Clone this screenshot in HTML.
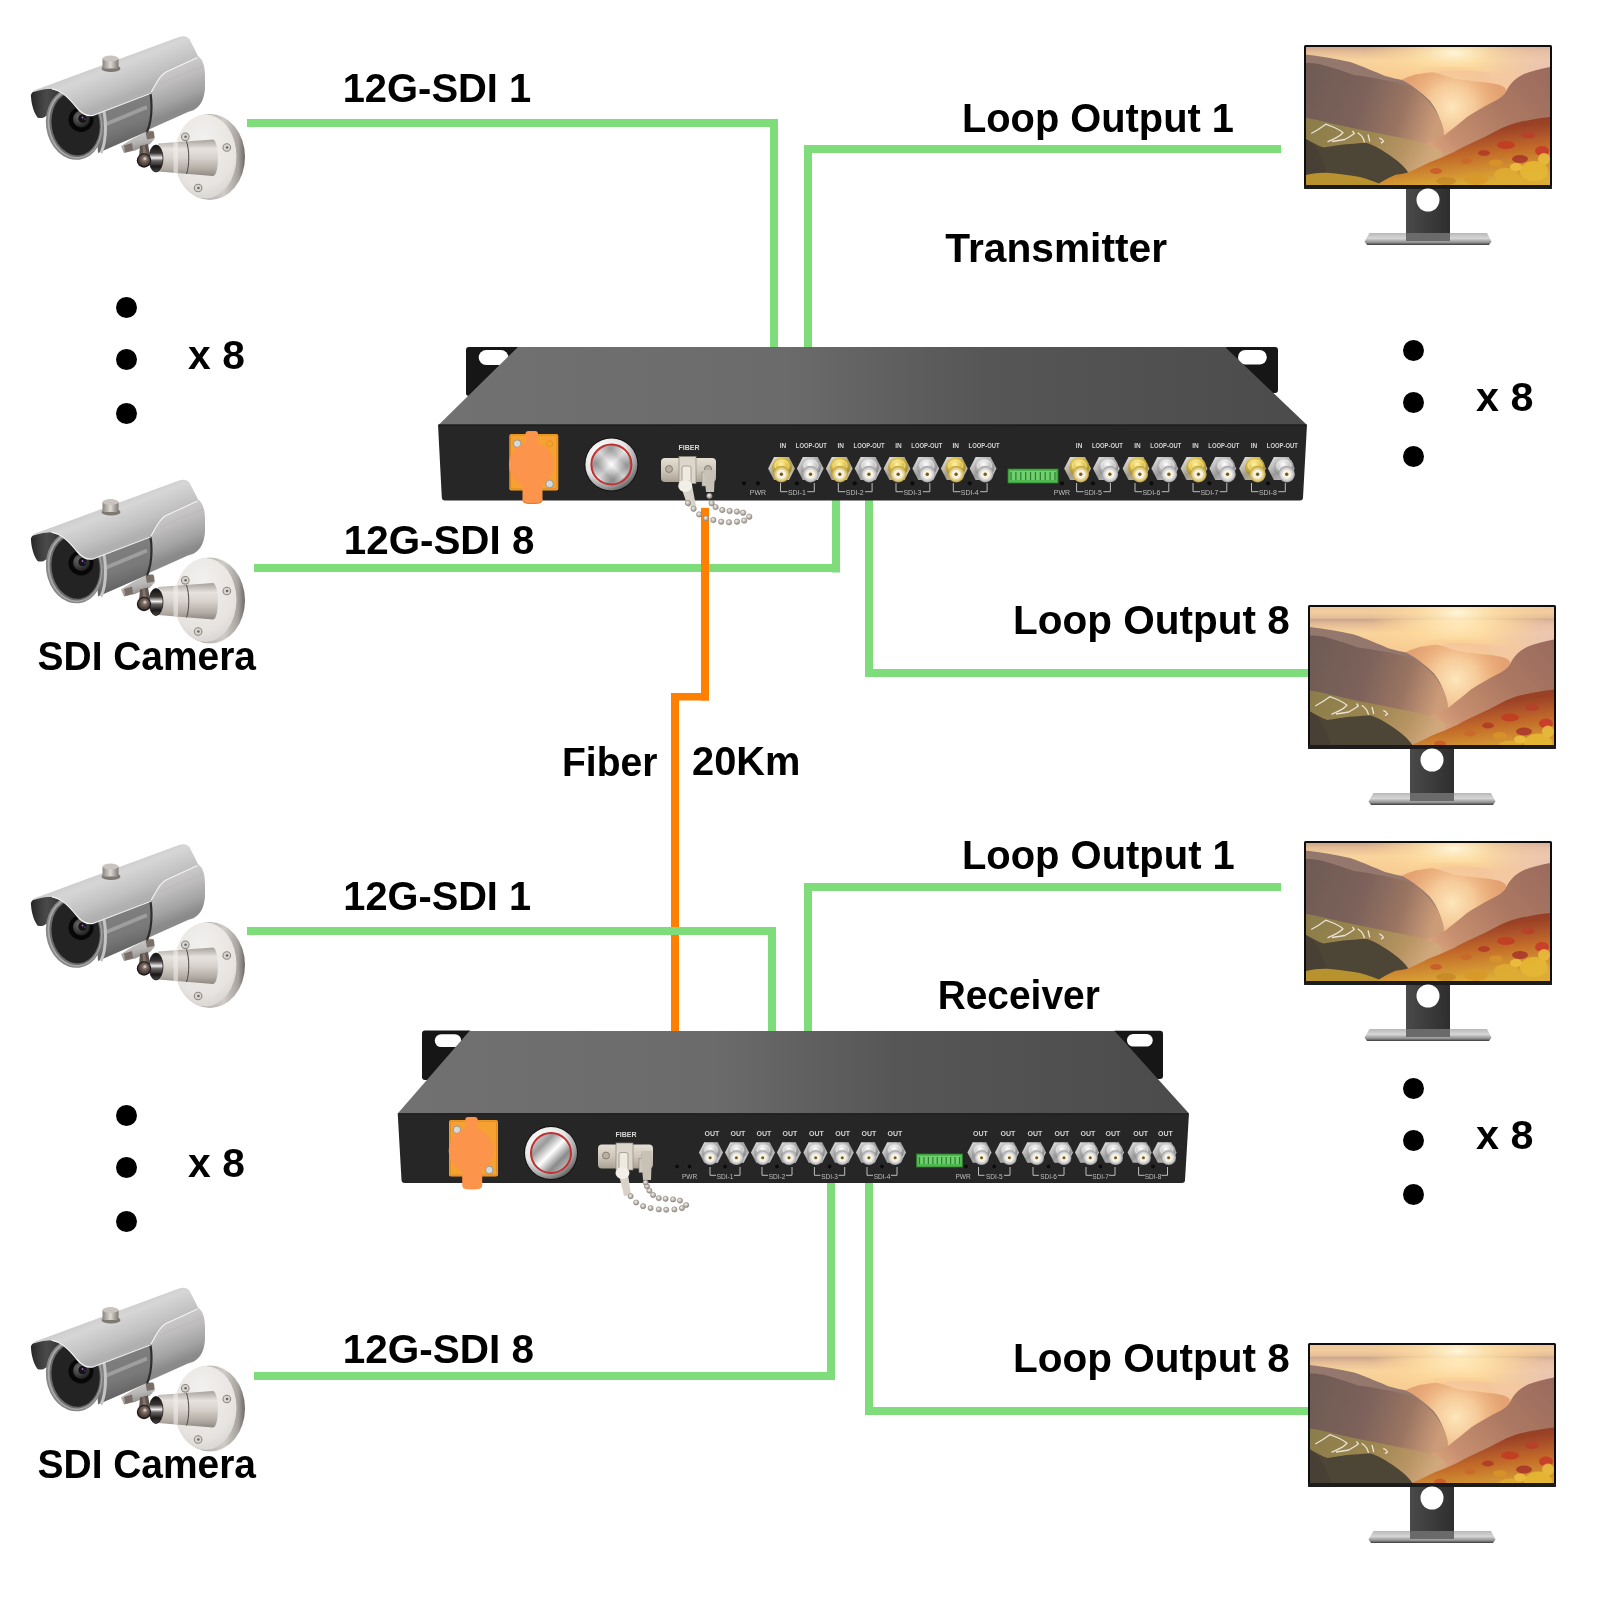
<!DOCTYPE html>
<html><head><meta charset="utf-8"><title>12G-SDI Fiber Diagram</title>
<style>html,body{margin:0;padding:0;background:#fff;}svg{display:block;will-change:transform;}</style></head>
<body><svg width="1600" height="1600" viewBox="0 0 1600 1600" font-family="Liberation Sans, sans-serif">
<defs>
<linearGradient id="cHood" gradientUnits="userSpaceOnUse" x1="100" y1="55" x2="118" y2="100">
 <stop offset="0" stop-color="#c4c4c4"/><stop offset="0.35" stop-color="#d6d6d6"/><stop offset="0.75" stop-color="#c2c2c2"/><stop offset="1" stop-color="#b0b0b0"/>
</linearGradient>
<linearGradient id="cBody" gradientUnits="userSpaceOnUse" x1="150" y1="70" x2="168" y2="115">
 <stop offset="0" stop-color="#d0cece"/><stop offset="0.4" stop-color="#bebcbc"/><stop offset="0.75" stop-color="#a4a4a4"/><stop offset="1" stop-color="#8a8a8a"/>
</linearGradient>
<linearGradient id="cFront" gradientUnits="userSpaceOnUse" x1="115" y1="105" x2="130" y2="150">
 <stop offset="0" stop-color="#7e7e7e"/><stop offset="0.45" stop-color="#7a7a7a"/><stop offset="1" stop-color="#5a5a5a"/>
</linearGradient>
<linearGradient id="cRim" x1="0" y1="0" x2="1" y2="0">
 <stop offset="0" stop-color="#8e8985"/><stop offset="0.7" stop-color="#cfcbc7"/><stop offset="0.9" stop-color="#a8a39f"/><stop offset="1" stop-color="#6d6865"/>
</linearGradient>
<radialGradient id="cFace" cx="0.45" cy="0.3" r="0.8">
 <stop offset="0" stop-color="#f3f1ef"/><stop offset="0.7" stop-color="#e6e3e0"/><stop offset="1" stop-color="#d2cecb"/>
</radialGradient>
<linearGradient id="cArm" gradientUnits="userSpaceOnUse" x1="0" y1="140" x2="0" y2="176">
 <stop offset="0" stop-color="#aaa49e"/><stop offset="0.25" stop-color="#e6e2de"/><stop offset="0.5" stop-color="#d8d2cc"/><stop offset="0.8" stop-color="#b4ada6"/><stop offset="1" stop-color="#8e8882"/>
</linearGradient>
<radialGradient id="cBall" cx="0.55" cy="0.4" r="0.6">
 <stop offset="0" stop-color="#a89890"/><stop offset="0.5" stop-color="#6a5a52"/><stop offset="1" stop-color="#3a302c"/>
</radialGradient>
<linearGradient id="cChrome" x1="0" y1="0" x2="0" y2="1">
 <stop offset="0" stop-color="#101010"/><stop offset="0.3" stop-color="#3a3634"/><stop offset="0.48" stop-color="#f0f0f0"/><stop offset="0.58" stop-color="#6a6664"/><stop offset="0.8" stop-color="#1a1818"/><stop offset="1" stop-color="#4a4644"/>
</linearGradient>
<linearGradient id="cBrk" x1="0" y1="0" x2="0.3" y2="1">
 <stop offset="0" stop-color="#d4d2d0"/><stop offset="0.6" stop-color="#b8b6b4"/><stop offset="1" stop-color="#8e8c8a"/>
</linearGradient>
<linearGradient id="cUnder" x1="0" y1="0" x2="1" y2="0">
 <stop offset="0" stop-color="#262626"/><stop offset="0.25" stop-color="#3c3c3c"/><stop offset="0.45" stop-color="#4a4a4a"/><stop offset="1" stop-color="#2e2e2e"/>
</linearGradient>
<linearGradient id="cKnob" x1="0" y1="0" x2="1" y2="0">
 <stop offset="0" stop-color="#8c8680"/><stop offset="0.5" stop-color="#dcd8d3"/><stop offset="1" stop-color="#7e7872"/>
</linearGradient>
<radialGradient id="cLens" cx="0.35" cy="0.35" r="0.7">
 <stop offset="0" stop-color="#6a6a6a"/><stop offset="0.6" stop-color="#3c3c3c"/><stop offset="1" stop-color="#1e1e1e"/>
</radialGradient>

<g id="cam">
 <!-- mount disk -->
 <ellipse cx="210" cy="157" rx="35" ry="43" fill="url(#cRim)"/>
 <ellipse cx="205.5" cy="156.5" rx="31" ry="42" fill="url(#cFace)"/>
 <g fill="#d9d5d1" stroke="#8d8883" stroke-width="1.1">
  <circle cx="185.3" cy="136.8" r="3.8"/><circle cx="226.8" cy="147.5" r="3.8"/><circle cx="198.1" cy="188" r="3.8"/>
 </g>
 <g fill="#6c6762"><circle cx="185.6" cy="136.8" r="1.3"/><circle cx="227.1" cy="147.5" r="1.3"/><circle cx="198.4" cy="188" r="1.3"/></g>
 <!-- arm -->
 <path d="M158,143.5 L213,139.5 C219,140 220,175 213,176 L158,171.5 Z" fill="url(#cArm)"/>
 <rect x="173.5" y="141.5" width="4.5" height="31.5" fill="#f2f0ee" opacity="0.55"/>
 <path d="M186.5,141.5 C189.5,150 189.5,166 186.5,174" stroke="#4e4945" stroke-width="1" fill="none"/>
 <!-- chrome collar -->
 <ellipse cx="156" cy="158.5" rx="7" ry="13.5" fill="url(#cChrome)"/>
 <ellipse cx="156" cy="158.5" rx="7" ry="13.5" fill="none" stroke="#1a1a1a" stroke-width="0.8"/>
 <!-- bracket under body -->
 <path d="M121,146 L133,138.5 L150,130 L154.5,133 L154.5,139 L150,144 L135,150.5 L124,153 Z" fill="url(#cBrk)"/>
 <path d="M124,145.5 L132,143 L133,150 L125.5,152.5 Z" fill="#7a6e68"/>
 <path d="M145.5,132 L153.5,131 L154.5,138 L147,139.5 Z" fill="#7a6e68"/>
 <!-- elbow + ball -->
 <path d="M140,146 L148,144 L150,156 L139,157 Z" fill="#5e534d"/>
 <path d="M142.5,146 L145,145.5 L146.5,155 L143,155.5 Z" fill="#8a7e76" opacity="0.8"/>
 <circle cx="144" cy="160.5" r="7.2" fill="#1c1a19"/>
 <circle cx="144" cy="160.3" r="6" fill="url(#cBall)"/>
 <circle cx="145" cy="158.5" r="1.6" fill="#d8ccc4" opacity="0.8"/>
 <!-- body back cylinder -->
 <path d="M100,100 L196,55 C203,58 205,66 205,76 L205,88 C204,104 197,110 188,112 L103,150 Z" fill="url(#cBody)"/>
 <path d="M160,84 C170,79 190,71 203,66" stroke="#b8b8b8" stroke-width="1" fill="none" opacity="0.7"/>
 <!-- body front section -->
 <path d="M95,103 L147,81 C152,95 152,118 147,131.5 L98,153 Z" fill="url(#cFront)"/>
 <path d="M104,125 L147,107" stroke="#a4a4a4" stroke-width="4" fill="none" opacity="0.85"/>
 <path d="M147,81 C153,95 153,118 147,132" stroke="#2e2e2e" stroke-width="2.2" fill="none"/>
 <path d="M101,103 C107,115 107,140 101,153" stroke="#c4c4c4" stroke-width="3" fill="none"/>
 <!-- hood interior (dark) -->
 <path d="M31,97 C30,92 35,89 50,88.5 L66,94 L66,118 L46,116 C43,118.5 39.5,118.5 37.5,117.5 C33.5,112 31.5,104 31,97 Z" fill="url(#cUnder)"/>
 <!-- front ring and lens -->
 <ellipse cx="74.5" cy="124" rx="28.5" ry="36" fill="#878787" transform="rotate(-8 74.5 124)"/>
 <ellipse cx="74.8" cy="124" rx="27" ry="34.6" fill="#a9a9a9" transform="rotate(-8 74.5 124)"/>
 <ellipse cx="75.2" cy="124" rx="25.6" ry="33.2" fill="#6a6a6a" transform="rotate(-8 74.5 124)"/>
 <ellipse cx="75.6" cy="124" rx="24" ry="31.6" fill="#232323" transform="rotate(-8 74.5 124)"/>
 <circle cx="81" cy="119.5" r="12.5" fill="#070707"/>
 <circle cx="81.5" cy="119" r="8.5" fill="url(#cLens)"/>
 <circle cx="82.5" cy="118.5" r="4.2" fill="#141414"/>
 <circle cx="82.5" cy="117.5" r="0.9" fill="#c060c0"/>
 <circle cx="84.8" cy="119.2" r="0.9" fill="#2040a0"/>
 <!-- hood -->
 <path d="M33,92 C34,90 36,89.5 40,88.2 L179,37 C184,35.5 188,36.5 190,40 L197.5,55 L197.5,57.5 L166,72 C159,75.5 156,84 151,92.5 L93,115.5 C86,117 81,113 76,107 C68,97 60,89 50,88.7 C42,89 37,91 33,92 Z" fill="url(#cHood)"/>
 <path d="M52,89 C62,90 70,99 77,108 C82,114 87,116.5 93,115.5 L151.5,93" stroke="#f2f2f2" stroke-width="1.2" fill="none"/>
 <path d="M151,92.5 C156,84 159,75.5 166,72 L197.5,57.5" stroke="#f4f4f4" stroke-width="1.1" fill="none"/>
 <!-- knob -->
 <ellipse cx="111" cy="68.5" rx="9.5" ry="3.6" fill="#7e7873"/>
 <rect x="102.5" y="58.5" width="16" height="10" fill="url(#cKnob)"/>
 <ellipse cx="110.5" cy="58.5" rx="8" ry="3" fill="#c9c4bf"/>
</g>

<linearGradient id="mSky" gradientUnits="userSpaceOnUse" x1="0" y1="-16" x2="0" y2="138">
 <stop offset="0" stop-color="#ecc69c"/><stop offset="0.06" stop-color="#f2cc9e"/><stop offset="0.095" stop-color="#e2bc98"/><stop offset="0.104" stop-color="#cca68e"/><stop offset="0.135" stop-color="#e4bc96"/><stop offset="0.19" stop-color="#f8d49c"/><stop offset="0.3" stop-color="#f8cc92"/><stop offset="0.52" stop-color="#f2b67e"/><stop offset="1" stop-color="#e8a06a"/>
</linearGradient>
<radialGradient id="mHaze" cx="1" cy="0.5" r="0.9">
 <stop offset="0" stop-color="#e8c2b4" stop-opacity="0.9"/><stop offset="1" stop-color="#e8c2b4" stop-opacity="0"/>
</radialGradient>
<radialGradient id="mSun" cx="148" cy="6" r="50" gradientUnits="userSpaceOnUse" gradientTransform="translate(148 6) scale(1.8 0.6) translate(-148 -6)">
 <stop offset="0" stop-color="#fff6da" stop-opacity="1"/><stop offset="0.4" stop-color="#ffe2a8" stop-opacity="0.7"/><stop offset="1" stop-color="#ffd090" stop-opacity="0"/>
</radialGradient>
<radialGradient id="mGlow" cx="146" cy="60" r="50" gradientUnits="userSpaceOnUse">
 <stop offset="0" stop-color="#fee6bc" stop-opacity="1"/><stop offset="0.45" stop-color="#fad4a2" stop-opacity="0.8"/><stop offset="1" stop-color="#f4b880" stop-opacity="0"/>
</radialGradient>
<linearGradient id="mLeftM" x1="0" y1="0" x2="1" y2="0.3">
 <stop offset="0" stop-color="#6e5a54"/><stop offset="0.45" stop-color="#7c625a"/><stop offset="0.75" stop-color="#9a7462"/><stop offset="1" stop-color="#cc9c78"/>
</linearGradient>
<linearGradient id="mRightM" x1="1" y1="0" x2="0" y2="0.8">
 <stop offset="0" stop-color="#9a6a5e"/><stop offset="0.4" stop-color="#ac7862"/><stop offset="0.75" stop-color="#c89070"/><stop offset="1" stop-color="#e8b488"/>
</linearGradient>
<linearGradient id="mTrees" x1="0.2" y1="0" x2="0.5" y2="1">
 <stop offset="0" stop-color="#7e3e2a"/><stop offset="0.3" stop-color="#9c4228"/><stop offset="0.6" stop-color="#c26a2a"/><stop offset="1" stop-color="#dcac36"/>
</linearGradient>
<linearGradient id="mLeftF" x1="0" y1="0" x2="1" y2="0.3">
 <stop offset="0" stop-color="#8a7c4a"/><stop offset="0.5" stop-color="#9c8650"/><stop offset="0.8" stop-color="#b89464"/><stop offset="1" stop-color="#d0a87c"/>
</linearGradient>
<linearGradient id="mNeck" x1="0" y1="0" x2="1" y2="0">
 <stop offset="0" stop-color="#4a4a4a"/><stop offset="0.5" stop-color="#3c3c3c"/><stop offset="1" stop-color="#2e2e2e"/>
</linearGradient>
<linearGradient id="mBase" x1="0" y1="0" x2="0" y2="1">
 <stop offset="0" stop-color="#b8b8b8"/><stop offset="0.45" stop-color="#d6d6d6"/><stop offset="0.8" stop-color="#8e8e8e"/><stop offset="1" stop-color="#3a3a3a"/>
</linearGradient>
<filter id="soft" x="-5%" y="-5%" width="110%" height="110%"><feGaussianBlur stdDeviation="0.7"/></filter>
<clipPath id="mClip"><rect x="0" y="0" width="244" height="138"/></clipPath>

<g id="land"><g filter="url(#soft)">
 <rect x="0" y="-16" width="244" height="154" fill="url(#mSky)"/>
 <rect x="0" y="0" width="244" height="90" fill="url(#mSun)"/>
 <rect x="160" y="0" width="84" height="40" fill="url(#mHaze)"/>
 <path d="M120,28 C135,24 145,23 153,23.6 C170,24 190,26 205,28 C212,29 218,31 222,34 L222,138 L120,138 Z" fill="#f4c8a0"/>
 <path d="M96,32.4 C104,29 110,27 114,27 C120,26 124,25 128,25.4 C136,27 142,30 148,31.5 C156,33 162,33.5 166,34 C176,35 186,36 192,37.6 C196,38.5 198,40 200,42 L200,138 L96,138 Z" fill="#e4a272"/>
 <rect x="90" y="20" width="120" height="95" fill="url(#mGlow)"/>
 <path d="M0,7.5 C15,9 30,12 44,15 C58,20 70,25 79,29 C86,31 92,32 96,33 C106,38 116,46 124,54 C130,62 134,70 136,80 L0,138 Z" fill="#94786e"/>
 <path d="M0,16 C5,16 10,16.5 13,17 C20,19 28,21 35,23.6 C40,25 44,27 48,28 C56,29 63,30 70,31.5 C76,32.5 82,33.5 87.5,35 C94,37 100,38 105,40 C112,44 118,50 124,56 C128,61 131,66 133,70 C136,76 138,82 138,88 C138,92 137,94 136,96 L0,138 Z" fill="url(#mLeftM)"/>
 <path d="M244,20 C234,22 225,24 218,27 C212,30 208,33 205,36.7 C202,40 201,43 199,46.4 C195,51 189,54 183,57 C176,61 168,65 161,70 C154,76 146,82 139.5,87.5 C133,91 127,94 122,96 L110,108 L244,138 Z" fill="url(#mRightM)"/>
 <path d="M0,71 C6,72 12,73 17.5,74.4 C26,76.5 35,78.5 43.7,80.5 C55,83 67,85 78.7,87.5 C88,89.5 97,91 105,92.7 C112,94 118,96 124,98 C130,100 134,103 136,106 L120,138 L0,138 Z" fill="url(#mLeftF)"/>
 <path d="M5.2,86.5 Q13,82.3 19.8,77.2 L28.4,80.5 Q34,83 37,85.8 Q34,89 30,90.9 L21.5,94.8 M25.9,94.5 Q33,93.5 38.8,92.5 Q45,89 48.3,86.5 L46.5,84 M51.7,85.8 Q55,88 56.9,90.9 L58.6,95.3 M62,87.5 L63.8,94.5 M73.3,90.9 Q76,92 77.6,94.5 L75,96.1" stroke="#f2ece4" stroke-width="1.3" fill="none" opacity="0.9" stroke-linejoin="round"/>
 <path d="M0,92 C6,95 12,99 17.5,100.6 C26,99 35,97.5 43.7,97 C50,96.5 56,96 61,96 C67,98 73,101 78.7,105 C85,109 91,113 96,118 C101,123 106,130 110,138 L0,138 Z" fill="#4e4434"/>
 <path d="M0,92 C6,95 10,100 14,108 C18,118 22,126 24,138 L0,138 Z" fill="#4a3f34" opacity="0.8"/>
 <path d="M0,128 C8,126 16,125.5 24,126 C34,127 44,128 54,130 C62,132 70,135 76,138 L0,138 Z" fill="#b8922e"/>
 <path d="M82,138 C86,131 90,128 94,131 C97,134 98,136 99,138 Z" fill="#5a6a30"/>
 <path d="M244,70 C234,71 222,73 209.5,76 C203,78 197,80 192,83 C183,88 174,92 165.7,96 C159,99 153,102 148,105 C139,109 130,113 122,116 C114,120 106,124 100,126 C95,127 91,127.5 89,128 C82,131 76,134 71,138 L244,138 Z" fill="url(#mTrees)"/>
 <g opacity="0.85">
  <ellipse cx="200" cy="98" rx="9" ry="4" fill="#c23a24"/><ellipse cx="222" cy="88" rx="7" ry="3.5" fill="#b8402a"/>
  <ellipse cx="236" cy="104" rx="7" ry="5" fill="#c8382a"/><ellipse cx="178" cy="106" rx="6" ry="3" fill="#b03a26"/>
  <ellipse cx="214" cy="112" rx="8" ry="4" fill="#a8342a"/><ellipse cx="160" cy="114" rx="6" ry="3" fill="#c8682a"/>
  <ellipse cx="190" cy="116" rx="7" ry="3.5" fill="#d8942c"/><ellipse cx="130" cy="124" rx="6" ry="3" fill="#c85a28"/>
 </g>
 <g opacity="0.9">
  <ellipse cx="228" cy="124" rx="14" ry="10" fill="#e6b834"/><ellipse cx="200" cy="128" rx="12" ry="7" fill="#e0ac30"/>
  <ellipse cx="170" cy="132" rx="12" ry="6" fill="#d89a2c"/><ellipse cx="238" cy="112" rx="6" ry="6" fill="#e8bc3c"/>
  <ellipse cx="140" cy="134" rx="10" ry="4" fill="#c88a2a"/><ellipse cx="210" cy="120" rx="6" ry="4" fill="#eec040"/>
 </g>
</g></g>

<g id="monFrame">
 <rect x="0" y="0" width="248" height="144" rx="1.5" fill="#0e0e0e"/>
 <rect x="0" y="140" width="248" height="4" rx="1" fill="#1c1c1c"/>
 <path d="M65.5,188 L183,188 L187.5,196.5 L185,200 L63,200 L60.5,196.5 Z" fill="url(#mBase)"/>
 <rect x="102" y="144" width="44" height="46" fill="url(#mNeck)"/>
 <rect x="102" y="188" width="44" height="8" fill="#6a6a6a"/>
 <circle cx="124" cy="155" r="11.5" fill="#fff"/>
</g>
<g id="monA">
 <use href="#monFrame"/>
 <g transform="translate(2,2)"><g clip-path="url(#mClip)"><use href="#land"/></g></g>
</g>
<g id="monB">
 <use href="#monFrame"/>
 <g transform="translate(2,2)"><g clip-path="url(#mClip)"><use href="#land" transform="translate(0,12.5)"/><rect x="0" y="0" width="244" height="40" fill="url(#mSun)"/></g></g>
</g>

<linearGradient id="rTop" x1="0" y1="0.5" x2="1" y2="0.5">
 <stop offset="0" stop-color="#717171"/><stop offset="0.4" stop-color="#6b6b6b"/><stop offset="0.63" stop-color="#565656"/><stop offset="1" stop-color="#4b4b4b"/>
</linearGradient>
<linearGradient id="rTopV" x1="0" y1="0" x2="0" y2="1">
 <stop offset="0" stop-color="#000" stop-opacity="0.12"/><stop offset="1" stop-color="#fff" stop-opacity="0.04"/>
</linearGradient>
<radialGradient id="bGold" cx="0.45" cy="0.35" r="0.7">
 <stop offset="0" stop-color="#fff3a8"/><stop offset="0.45" stop-color="#e2c44a"/><stop offset="1" stop-color="#8a7420"/>
</radialGradient>
<radialGradient id="bSil" cx="0.45" cy="0.35" r="0.7">
 <stop offset="0" stop-color="#ffffff"/><stop offset="0.45" stop-color="#c8c8c8"/><stop offset="1" stop-color="#707070"/>
</radialGradient>
<linearGradient id="hexSil" x1="0" y1="0" x2="1" y2="1">
 <stop offset="0" stop-color="#f0f0f0"/><stop offset="0.5" stop-color="#9a9a9a"/><stop offset="1" stop-color="#d8d8d8"/>
</linearGradient>
<linearGradient id="hexGold" x1="0" y1="0" x2="1" y2="1">
 <stop offset="0" stop-color="#f0f0f0"/><stop offset="0.5" stop-color="#a09a88"/><stop offset="1" stop-color="#d8d0b0"/>
</linearGradient>
<radialGradient id="faceGold" cx="0.5" cy="0.5" r="0.5">
 <stop offset="0" stop-color="#f4e8b0"/><stop offset="0.7" stop-color="#e6d48a"/><stop offset="1" stop-color="#b89a3a"/>
</radialGradient>
<radialGradient id="faceSil" cx="0.5" cy="0.5" r="0.5">
 <stop offset="0" stop-color="#f0f0f0"/><stop offset="0.7" stop-color="#d6d6d6"/><stop offset="1" stop-color="#9a9a9a"/>
</radialGradient>
<radialGradient id="pbOuter" cx="0.35" cy="0.3" r="0.8">
 <stop offset="0" stop-color="#ffffff"/><stop offset="0.55" stop-color="#e6e6e6"/><stop offset="0.8" stop-color="#9a9a9a"/><stop offset="1" stop-color="#4a4a4a"/>
</radialGradient>
<linearGradient id="pbFace" x1="0" y1="0" x2="1" y2="1">
 <stop offset="0" stop-color="#f4f4f4"/><stop offset="0.3" stop-color="#9a9a9a"/><stop offset="0.5" stop-color="#ffffff"/><stop offset="0.7" stop-color="#8a8a8a"/><stop offset="1" stop-color="#e8e8e8"/>
</linearGradient>
<radialGradient id="bead" cx="0.4" cy="0.35" r="0.7">
 <stop offset="0" stop-color="#f4f2ee"/><stop offset="0.5" stop-color="#c4beb6"/><stop offset="1" stop-color="#8a847c"/>
</radialGradient>
<linearGradient id="fibPlate" x1="0" y1="0" x2="0" y2="1">
 <stop offset="0" stop-color="#e4ded4"/><stop offset="0.5" stop-color="#cfc8bb"/><stop offset="1" stop-color="#a8a194"/>
</linearGradient>
</defs>
<rect width="1600" height="1600" fill="#fff"/>
<rect x="247" y="119" width="531" height="8" fill="#7edc7b"/>
<rect x="770" y="119" width="8" height="229" fill="#7edc7b"/>
<rect x="804" y="145" width="477" height="8" fill="#7edc7b"/>
<rect x="804" y="145" width="8" height="203" fill="#7edc7b"/>
<rect x="254" y="564" width="586" height="8" fill="#7edc7b"/>
<rect x="832" y="499" width="8" height="73.5" fill="#7edc7b"/>
<rect x="865" y="499" width="8" height="178" fill="#7edc7b"/>
<rect x="865" y="669" width="445" height="8" fill="#7edc7b"/>
<rect x="701" y="507.9" width="8" height="192.60000000000002" fill="#ff8000"/>
<rect x="671" y="693" width="38" height="7.5" fill="#ff8000"/>
<rect x="671" y="693" width="8" height="339" fill="#ff8000"/>
<rect x="247" y="927" width="529" height="8" fill="#7edc7b"/>
<rect x="768" y="927" width="8" height="105" fill="#7edc7b"/>
<rect x="804" y="883" width="477" height="8" fill="#7edc7b"/>
<rect x="804" y="883" width="8" height="149" fill="#7edc7b"/>
<rect x="254" y="1372" width="581" height="8" fill="#7edc7b"/>
<rect x="827" y="1182" width="8" height="198" fill="#7edc7b"/>
<rect x="865" y="1182" width="8" height="233" fill="#7edc7b"/>
<rect x="865" y="1407" width="445" height="8" fill="#7edc7b"/>
<rect x="466" y="347" width="54" height="49" rx="3" fill="#161616"/><rect x="478.7" y="350" width="29.69999999999999" height="15" rx="7.5" fill="#fff"/><rect x="1224" y="347" width="54" height="46" rx="3" fill="#161616"/><rect x="1238" y="350" width="28.799999999999955" height="14.5" rx="7.25" fill="#fff"/><polygon points="518,347 1225,347 1307,425 438.5,425" fill="url(#rTop)"/><path d="M438,424.5 L1307,424.5 L1303,497.5 Q1303,500.5 1300,500.5 L445,500.5 Q442,500.5 441.8,497.5 Z" fill="#262626"/><rect x="439" y="424.5" width="867" height="1.2" fill="#1c1c1c"/>
<rect x="509.3" y="433.9" width="49" height="56.5" rx="2" fill="#f6a232"/><rect x="510.5" y="435" width="46.5" height="54" rx="1.5" fill="none" stroke="#e08818" stroke-width="1"/><circle cx="517.2" cy="443.7" r="3.8" fill="#d8d8d8" stroke="#8a8a8a" stroke-width="0.8"/><circle cx="549.6" cy="483.9" r="3.8" fill="#d8d8d8" stroke="#8a8a8a" stroke-width="0.8"/><circle cx="549.6" cy="443.7" r="3" fill="none" stroke="#e08818" stroke-width="0.8"/><path d="M525.5,434 Q525.5,431 528.5,431 L535,431 Q538,431 538,434 L538,444 L525.5,444 Z" fill="#fc944c"/><ellipse cx="531.5" cy="464.5" rx="22.5" ry="22.5" fill="#fc944c"/><path d="M522.5,480 L542.5,480 L542.5,499 C542.5,503 539,503.5 532.5,503.5 C526,503.5 522.5,503 522.5,499 Z" fill="#fc944c"/><path d="M522.5,499 C522.5,503 526,503.5 532.5,503.5 C539,503.5 542.5,503 542.5,499" stroke="#d87030" stroke-width="1" fill="none"/><circle cx="611.4" cy="464.5" r="27" fill="#111"/><circle cx="611.4" cy="464.5" r="26" fill="url(#pbOuter)"/><circle cx="611.4" cy="464.5" r="20.5" fill="url(#pbFace)"/><circle cx="611.4" cy="464.5" r="20" fill="none" stroke="#c03030" stroke-width="2"/><circle cx="611.4" cy="464.5" r="18" fill="url(#pbFace)" transform="rotate(90 611.4 464.5)" opacity="0.5"/><text x="689" y="450.2" font-size="7" fill="#d8d8d8" text-anchor="middle" font-weight="bold" font-family="Liberation Sans, sans-serif" >FIBER</text><rect x="661" y="458" width="55.0" height="24.0" rx="4.0" fill="url(#fibPlate)"/><circle cx="669.0" cy="469.0" r="3.5" fill="#b8b0a2" stroke="#6e685e" stroke-width="0.7"/><circle cx="708.0" cy="469.0" r="3.5" fill="#b8b0a2" stroke="#6e685e" stroke-width="0.7"/><rect x="679.0" y="456.5" width="17.0" height="27.0" fill="#ddd6ca" stroke="#8e877b" stroke-width="0.7"/><rect x="682.0" y="466.0" width="9.0" height="22.0" rx="2.0" fill="#eeeae2" stroke="#8e877b" stroke-width="0.7"/><rect x="702.0" y="472.0" width="6.0" height="14.0" fill="#cfc8bc" stroke="#8e877b" stroke-width="0.6"/><circle cx="744" cy="483.3" r="2.6" fill="#0c0c0c" stroke="#333" stroke-width="0.6"/><circle cx="758" cy="483.3" r="2.6" fill="#0c0c0c" stroke="#333" stroke-width="0.6"/><text x="758" y="495.2" font-size="7" fill="#bdbdbd" text-anchor="middle" font-weight="normal" font-family="Liberation Sans, sans-serif" >PWR</text><polygon points="768.1,468.5 774.0,457.0 789.0,457.0 794.9,468.5 789.0,480.0 774.0,480.0" fill="url(#hexGold)"/><ellipse cx="781.9626" cy="467.0" rx="10.0" ry="9.5" fill="url(#bGold)"/><ellipse cx="781.9626" cy="465.5" rx="7.0" ry="5.0" fill="none" stroke="#fff6c0" stroke-width="1.0" opacity="0.6"/><circle cx="781.4065" cy="474.3" r="8.2" fill="url(#faceGold)"/><circle cx="781.4065" cy="474.3" r="4.6" fill="#f6f2e6"/><circle cx="781.4065" cy="474.3" r="1.7" fill="#7a5a18"/><polygon points="796.9,468.5 802.8,457.0 817.8,457.0 823.6999999999999,468.5 817.8,480.0 802.8,480.0" fill="url(#hexSil)"/><ellipse cx="810.88932" cy="467.0" rx="10.0" ry="9.5" fill="url(#bSil)"/><ellipse cx="810.88932" cy="465.5" rx="7.0" ry="5.0" fill="none" stroke="#fafafa" stroke-width="1.0" opacity="0.6"/><circle cx="810.5233" cy="474.3" r="8.2" fill="url(#faceSil)"/><circle cx="810.5233" cy="474.3" r="4.6" fill="#f6f2e6"/><circle cx="810.5233" cy="474.3" r="1.7" fill="#7a5a18"/><text x="783.0" y="447.8" font-size="6.5" fill="#d4d4d4" text-anchor="middle" font-weight="bold" font-family="Liberation Sans, sans-serif" >IN</text><text x="811.3" y="447.8" font-size="6.5" fill="#d4d4d4" text-anchor="middle" font-weight="bold" font-family="Liberation Sans, sans-serif" textLength="31" lengthAdjust="spacingAndGlyphs">LOOP-OUT</text><circle cx="796.9" cy="483.3" r="2.6" fill="#0c0c0c" stroke="#333" stroke-width="0.6"/><path d="M780.5,483 L780.5,491.7 L787.5,491.7 M814.3,483 L814.3,491.7 L807.3,491.7" stroke="#bdbdbd" stroke-width="1" fill="none"/><text x="796.9" y="495" font-size="7" fill="#bdbdbd" text-anchor="middle" font-weight="normal" font-family="Liberation Sans, sans-serif" >SDI-1</text><polygon points="825.9,468.5 831.8,457.0 846.8,457.0 852.6999999999999,468.5 846.8,480.0 831.8,480.0" fill="url(#hexGold)"/><ellipse cx="840.0169199999999" cy="467.0" rx="10.0" ry="9.5" fill="url(#bGold)"/><ellipse cx="840.0169199999999" cy="465.5" rx="7.0" ry="5.0" fill="none" stroke="#fff6c0" stroke-width="1.0" opacity="0.6"/><circle cx="839.8422999999999" cy="474.3" r="8.2" fill="url(#faceGold)"/><circle cx="839.8422999999999" cy="474.3" r="4.6" fill="#f6f2e6"/><circle cx="839.8422999999999" cy="474.3" r="1.7" fill="#7a5a18"/><polygon points="854.6999999999999,468.5 860.5999999999999,457.0 875.5999999999999,457.0 881.4999999999999,468.5 875.5999999999999,480.0 860.5999999999999,480.0" fill="url(#hexSil)"/><ellipse cx="868.94364" cy="467.0" rx="10.0" ry="9.5" fill="url(#bSil)"/><ellipse cx="868.94364" cy="465.5" rx="7.0" ry="5.0" fill="none" stroke="#fafafa" stroke-width="1.0" opacity="0.6"/><circle cx="868.9590999999999" cy="474.3" r="8.2" fill="url(#faceSil)"/><circle cx="868.9590999999999" cy="474.3" r="4.6" fill="#f6f2e6"/><circle cx="868.9590999999999" cy="474.3" r="1.7" fill="#7a5a18"/><text x="840.8" y="447.8" font-size="6.5" fill="#d4d4d4" text-anchor="middle" font-weight="bold" font-family="Liberation Sans, sans-serif" >IN</text><text x="869.0999999999999" y="447.8" font-size="6.5" fill="#d4d4d4" text-anchor="middle" font-weight="bold" font-family="Liberation Sans, sans-serif" textLength="31" lengthAdjust="spacingAndGlyphs">LOOP-OUT</text><circle cx="854.6999999999999" cy="483.3" r="2.6" fill="#0c0c0c" stroke="#333" stroke-width="0.6"/><path d="M838.3,483 L838.3,491.7 L845.3,491.7 M872.0999999999999,483 L872.0999999999999,491.7 L865.0999999999999,491.7" stroke="#bdbdbd" stroke-width="1" fill="none"/><text x="854.6999999999999" y="495" font-size="7" fill="#bdbdbd" text-anchor="middle" font-weight="normal" font-family="Liberation Sans, sans-serif" >SDI-2</text><polygon points="883.6,468.5 889.5,457.0 904.5,457.0 910.4,468.5 904.5,480.0 889.5,480.0" fill="url(#hexGold)"/><ellipse cx="897.9708" cy="467.0" rx="10.0" ry="9.5" fill="url(#bGold)"/><ellipse cx="897.9708" cy="465.5" rx="7.0" ry="5.0" fill="none" stroke="#fff6c0" stroke-width="1.0" opacity="0.6"/><circle cx="898.177" cy="474.3" r="8.2" fill="url(#faceGold)"/><circle cx="898.177" cy="474.3" r="4.6" fill="#f6f2e6"/><circle cx="898.177" cy="474.3" r="1.7" fill="#7a5a18"/><polygon points="912.4,468.5 918.3,457.0 933.3,457.0 939.1999999999999,468.5 933.3,480.0 918.3,480.0" fill="url(#hexSil)"/><ellipse cx="926.89752" cy="467.0" rx="10.0" ry="9.5" fill="url(#bSil)"/><ellipse cx="926.89752" cy="465.5" rx="7.0" ry="5.0" fill="none" stroke="#fafafa" stroke-width="1.0" opacity="0.6"/><circle cx="927.2937999999999" cy="474.3" r="8.2" fill="url(#faceSil)"/><circle cx="927.2937999999999" cy="474.3" r="4.6" fill="#f6f2e6"/><circle cx="927.2937999999999" cy="474.3" r="1.7" fill="#7a5a18"/><text x="898.5" y="447.8" font-size="6.5" fill="#d4d4d4" text-anchor="middle" font-weight="bold" font-family="Liberation Sans, sans-serif" >IN</text><text x="926.8" y="447.8" font-size="6.5" fill="#d4d4d4" text-anchor="middle" font-weight="bold" font-family="Liberation Sans, sans-serif" textLength="31" lengthAdjust="spacingAndGlyphs">LOOP-OUT</text><circle cx="912.4" cy="483.3" r="2.6" fill="#0c0c0c" stroke="#333" stroke-width="0.6"/><path d="M896,483 L896,491.7 L903,491.7 M929.8,483 L929.8,491.7 L922.8,491.7" stroke="#bdbdbd" stroke-width="1" fill="none"/><text x="912.4" y="495" font-size="7" fill="#bdbdbd" text-anchor="middle" font-weight="normal" font-family="Liberation Sans, sans-serif" >SDI-3</text><polygon points="940.9,468.5 946.8,457.0 961.8,457.0 967.6999999999999,468.5 961.8,480.0 946.8,480.0" fill="url(#hexGold)"/><ellipse cx="955.52292" cy="467.0" rx="10.0" ry="9.5" fill="url(#bGold)"/><ellipse cx="955.52292" cy="465.5" rx="7.0" ry="5.0" fill="none" stroke="#fff6c0" stroke-width="1.0" opacity="0.6"/><circle cx="956.1073" cy="474.3" r="8.2" fill="url(#faceGold)"/><circle cx="956.1073" cy="474.3" r="4.6" fill="#f6f2e6"/><circle cx="956.1073" cy="474.3" r="1.7" fill="#7a5a18"/><polygon points="969.6999999999999,468.5 975.5999999999999,457.0 990.5999999999999,457.0 996.4999999999999,468.5 990.5999999999999,480.0 975.5999999999999,480.0" fill="url(#hexSil)"/><ellipse cx="984.4496399999999" cy="467.0" rx="10.0" ry="9.5" fill="url(#bSil)"/><ellipse cx="984.4496399999999" cy="465.5" rx="7.0" ry="5.0" fill="none" stroke="#fafafa" stroke-width="1.0" opacity="0.6"/><circle cx="985.2240999999999" cy="474.3" r="8.2" fill="url(#faceSil)"/><circle cx="985.2240999999999" cy="474.3" r="4.6" fill="#f6f2e6"/><circle cx="985.2240999999999" cy="474.3" r="1.7" fill="#7a5a18"/><text x="955.8" y="447.8" font-size="6.5" fill="#d4d4d4" text-anchor="middle" font-weight="bold" font-family="Liberation Sans, sans-serif" >IN</text><text x="984.0999999999999" y="447.8" font-size="6.5" fill="#d4d4d4" text-anchor="middle" font-weight="bold" font-family="Liberation Sans, sans-serif" textLength="31" lengthAdjust="spacingAndGlyphs">LOOP-OUT</text><circle cx="969.6999999999999" cy="483.3" r="2.6" fill="#0c0c0c" stroke="#333" stroke-width="0.6"/><path d="M953.3,483 L953.3,491.7 L960.3,491.7 M987.0999999999999,483 L987.0999999999999,491.7 L980.0999999999999,491.7" stroke="#bdbdbd" stroke-width="1" fill="none"/><text x="969.6999999999999" y="495" font-size="7" fill="#bdbdbd" text-anchor="middle" font-weight="normal" font-family="Liberation Sans, sans-serif" >SDI-4</text><polygon points="1064.1999999999998,468.5 1070.1,457.0 1085.1,457.0 1091.0,468.5 1085.1,480.0 1070.1,480.0" fill="url(#hexGold)"/><ellipse cx="1079.3654399999998" cy="467.0" rx="10.0" ry="9.5" fill="url(#bGold)"/><ellipse cx="1079.3654399999998" cy="465.5" rx="7.0" ry="5.0" fill="none" stroke="#fff6c0" stroke-width="1.0" opacity="0.6"/><circle cx="1080.7636" cy="474.3" r="8.2" fill="url(#faceGold)"/><circle cx="1080.7636" cy="474.3" r="4.6" fill="#f6f2e6"/><circle cx="1080.7636" cy="474.3" r="1.7" fill="#7a5a18"/><polygon points="1092.9999999999998,468.5 1098.8999999999999,457.0 1113.8999999999999,457.0 1119.8,468.5 1113.8999999999999,480.0 1098.8999999999999,480.0" fill="url(#hexSil)"/><ellipse cx="1108.29216" cy="467.0" rx="10.0" ry="9.5" fill="url(#bSil)"/><ellipse cx="1108.29216" cy="465.5" rx="7.0" ry="5.0" fill="none" stroke="#fafafa" stroke-width="1.0" opacity="0.6"/><circle cx="1109.8803999999998" cy="474.3" r="8.2" fill="url(#faceSil)"/><circle cx="1109.8803999999998" cy="474.3" r="4.6" fill="#f6f2e6"/><circle cx="1109.8803999999998" cy="474.3" r="1.7" fill="#7a5a18"/><text x="1079.1" y="447.8" font-size="6.5" fill="#d4d4d4" text-anchor="middle" font-weight="bold" font-family="Liberation Sans, sans-serif" >IN</text><text x="1107.3999999999999" y="447.8" font-size="6.5" fill="#d4d4d4" text-anchor="middle" font-weight="bold" font-family="Liberation Sans, sans-serif" textLength="31" lengthAdjust="spacingAndGlyphs">LOOP-OUT</text><circle cx="1093.0" cy="483.3" r="2.6" fill="#0c0c0c" stroke="#333" stroke-width="0.6"/><path d="M1076.6,483 L1076.6,491.7 L1083.6,491.7 M1110.3999999999999,483 L1110.3999999999999,491.7 L1103.3999999999999,491.7" stroke="#bdbdbd" stroke-width="1" fill="none"/><text x="1093.0" y="495" font-size="7" fill="#bdbdbd" text-anchor="middle" font-weight="normal" font-family="Liberation Sans, sans-serif" >SDI-5</text><polygon points="1122.6,468.5 1128.5,457.0 1143.5,457.0 1149.4,468.5 1143.5,480.0 1128.5,480.0" fill="url(#hexGold)"/><ellipse cx="1138.0224" cy="467.0" rx="10.0" ry="9.5" fill="url(#bGold)"/><ellipse cx="1138.0224" cy="465.5" rx="7.0" ry="5.0" fill="none" stroke="#fff6c0" stroke-width="1.0" opacity="0.6"/><circle cx="1139.806" cy="474.3" r="8.2" fill="url(#faceGold)"/><circle cx="1139.806" cy="474.3" r="4.6" fill="#f6f2e6"/><circle cx="1139.806" cy="474.3" r="1.7" fill="#7a5a18"/><polygon points="1151.3999999999999,468.5 1157.3,457.0 1172.3,457.0 1178.2,468.5 1172.3,480.0 1157.3,480.0" fill="url(#hexSil)"/><ellipse cx="1166.94912" cy="467.0" rx="10.0" ry="9.5" fill="url(#bSil)"/><ellipse cx="1166.94912" cy="465.5" rx="7.0" ry="5.0" fill="none" stroke="#fafafa" stroke-width="1.0" opacity="0.6"/><circle cx="1168.9228" cy="474.3" r="8.2" fill="url(#faceSil)"/><circle cx="1168.9228" cy="474.3" r="4.6" fill="#f6f2e6"/><circle cx="1168.9228" cy="474.3" r="1.7" fill="#7a5a18"/><text x="1137.5" y="447.8" font-size="6.5" fill="#d4d4d4" text-anchor="middle" font-weight="bold" font-family="Liberation Sans, sans-serif" >IN</text><text x="1165.8" y="447.8" font-size="6.5" fill="#d4d4d4" text-anchor="middle" font-weight="bold" font-family="Liberation Sans, sans-serif" textLength="31" lengthAdjust="spacingAndGlyphs">LOOP-OUT</text><circle cx="1151.4" cy="483.3" r="2.6" fill="#0c0c0c" stroke="#333" stroke-width="0.6"/><path d="M1135,483 L1135,491.7 L1142,491.7 M1168.8,483 L1168.8,491.7 L1161.8,491.7" stroke="#bdbdbd" stroke-width="1" fill="none"/><text x="1151.4" y="495" font-size="7" fill="#bdbdbd" text-anchor="middle" font-weight="normal" font-family="Liberation Sans, sans-serif" >SDI-6</text><polygon points="1180.6,468.5 1186.5,457.0 1201.5,457.0 1207.4,468.5 1201.5,480.0 1186.5,480.0" fill="url(#hexGold)"/><ellipse cx="1196.2776" cy="467.0" rx="10.0" ry="9.5" fill="url(#bGold)"/><ellipse cx="1196.2776" cy="465.5" rx="7.0" ry="5.0" fill="none" stroke="#fff6c0" stroke-width="1.0" opacity="0.6"/><circle cx="1198.444" cy="474.3" r="8.2" fill="url(#faceGold)"/><circle cx="1198.444" cy="474.3" r="4.6" fill="#f6f2e6"/><circle cx="1198.444" cy="474.3" r="1.7" fill="#7a5a18"/><polygon points="1209.3999999999999,468.5 1215.3,457.0 1230.3,457.0 1236.2,468.5 1230.3,480.0 1215.3,480.0" fill="url(#hexSil)"/><ellipse cx="1225.20432" cy="467.0" rx="10.0" ry="9.5" fill="url(#bSil)"/><ellipse cx="1225.20432" cy="465.5" rx="7.0" ry="5.0" fill="none" stroke="#fafafa" stroke-width="1.0" opacity="0.6"/><circle cx="1227.5608" cy="474.3" r="8.2" fill="url(#faceSil)"/><circle cx="1227.5608" cy="474.3" r="4.6" fill="#f6f2e6"/><circle cx="1227.5608" cy="474.3" r="1.7" fill="#7a5a18"/><text x="1195.5" y="447.8" font-size="6.5" fill="#d4d4d4" text-anchor="middle" font-weight="bold" font-family="Liberation Sans, sans-serif" >IN</text><text x="1223.8" y="447.8" font-size="6.5" fill="#d4d4d4" text-anchor="middle" font-weight="bold" font-family="Liberation Sans, sans-serif" textLength="31" lengthAdjust="spacingAndGlyphs">LOOP-OUT</text><circle cx="1209.4" cy="483.3" r="2.6" fill="#0c0c0c" stroke="#333" stroke-width="0.6"/><path d="M1193,483 L1193,491.7 L1200,491.7 M1226.8,483 L1226.8,491.7 L1219.8,491.7" stroke="#bdbdbd" stroke-width="1" fill="none"/><text x="1209.4" y="495" font-size="7" fill="#bdbdbd" text-anchor="middle" font-weight="normal" font-family="Liberation Sans, sans-serif" >SDI-7</text><polygon points="1239.1,468.5 1245.0,457.0 1260.0,457.0 1265.9,468.5 1260.0,480.0 1245.0,480.0" fill="url(#hexGold)"/><ellipse cx="1255.035" cy="467.0" rx="10.0" ry="9.5" fill="url(#bGold)"/><ellipse cx="1255.035" cy="465.5" rx="7.0" ry="5.0" fill="none" stroke="#fff6c0" stroke-width="1.0" opacity="0.6"/><circle cx="1257.5875" cy="474.3" r="8.2" fill="url(#faceGold)"/><circle cx="1257.5875" cy="474.3" r="4.6" fill="#f6f2e6"/><circle cx="1257.5875" cy="474.3" r="1.7" fill="#7a5a18"/><polygon points="1267.8999999999999,468.5 1273.8,457.0 1288.8,457.0 1294.7,468.5 1288.8,480.0 1273.8,480.0" fill="url(#hexSil)"/><ellipse cx="1283.96172" cy="467.0" rx="10.0" ry="9.5" fill="url(#bSil)"/><ellipse cx="1283.96172" cy="465.5" rx="7.0" ry="5.0" fill="none" stroke="#fafafa" stroke-width="1.0" opacity="0.6"/><circle cx="1286.7042999999999" cy="474.3" r="8.2" fill="url(#faceSil)"/><circle cx="1286.7042999999999" cy="474.3" r="4.6" fill="#f6f2e6"/><circle cx="1286.7042999999999" cy="474.3" r="1.7" fill="#7a5a18"/><text x="1254.0" y="447.8" font-size="6.5" fill="#d4d4d4" text-anchor="middle" font-weight="bold" font-family="Liberation Sans, sans-serif" >IN</text><text x="1282.3" y="447.8" font-size="6.5" fill="#d4d4d4" text-anchor="middle" font-weight="bold" font-family="Liberation Sans, sans-serif" textLength="31" lengthAdjust="spacingAndGlyphs">LOOP-OUT</text><circle cx="1267.9" cy="483.3" r="2.6" fill="#0c0c0c" stroke="#333" stroke-width="0.6"/><path d="M1251.5,483 L1251.5,491.7 L1258.5,491.7 M1285.3,483 L1285.3,491.7 L1278.3,491.7" stroke="#bdbdbd" stroke-width="1" fill="none"/><text x="1267.9" y="495" font-size="7" fill="#bdbdbd" text-anchor="middle" font-weight="normal" font-family="Liberation Sans, sans-serif" >SDI-8</text><rect x="1008" y="469" width="50" height="14" fill="#4fb84f" stroke="#2e7d2e" stroke-width="0.8"/><rect x="1010" y="471" width="46" height="9" fill="#6fd06f"/><rect x="1010.4" y="472" width="1.2" height="8" fill="#2e7d2e"/><rect x="1015.2888888888889" y="472" width="1.2" height="8" fill="#2e7d2e"/><rect x="1020.1777777777778" y="472" width="1.2" height="8" fill="#2e7d2e"/><rect x="1025.0666666666668" y="472" width="1.2" height="8" fill="#2e7d2e"/><rect x="1029.9555555555557" y="472" width="1.2" height="8" fill="#2e7d2e"/><rect x="1034.8444444444444" y="472" width="1.2" height="8" fill="#2e7d2e"/><rect x="1039.7333333333333" y="472" width="1.2" height="8" fill="#2e7d2e"/><rect x="1044.6222222222223" y="472" width="1.2" height="8" fill="#2e7d2e"/><rect x="1049.5111111111112" y="472" width="1.2" height="8" fill="#2e7d2e"/><rect x="1054.4" y="472" width="1.2" height="8" fill="#2e7d2e"/><text x="1062" y="495.2" font-size="7" fill="#bdbdbd" text-anchor="middle" font-weight="normal" font-family="Liberation Sans, sans-serif" >PWR</text><circle cx="1062" cy="483.3" r="2.6" fill="#0c0c0c" stroke="#333" stroke-width="0.6"/>
<rect x="422" y="1030.4" width="50" height="49.59999999999991" rx="3" fill="#161616"/><rect x="434.8" y="1034.2" width="26.399999999999977" height="12.799999999999955" rx="6.399999999999977" fill="#fff"/><rect x="1112" y="1030.7" width="51" height="48.299999999999955" rx="3" fill="#161616"/><rect x="1127" y="1033.9" width="25.700000000000045" height="12.599999999999909" rx="6.2999999999999545" fill="#fff"/><polygon points="469.5,1031 1114.6,1031 1189,1113.5 397.7,1113.5" fill="url(#rTop)"/><path d="M397.7,1113.2 L1189,1113.2 L1185,1180 Q1185,1183 1182,1183 L404.7,1183 Q401.7,1183 401.5,1180 Z" fill="#262626"/><rect x="398.7" y="1113.2" width="789.3" height="1.2" fill="#1c1c1c"/>
<g transform="translate(-60.30000000000001,686.1)"><rect x="509.3" y="433.9" width="49" height="56.5" rx="2" fill="#f6a232"/><rect x="510.5" y="435" width="46.5" height="54" rx="1.5" fill="none" stroke="#e08818" stroke-width="1"/><circle cx="517.2" cy="443.7" r="3.8" fill="#d8d8d8" stroke="#8a8a8a" stroke-width="0.8"/><circle cx="549.6" cy="483.9" r="3.8" fill="#d8d8d8" stroke="#8a8a8a" stroke-width="0.8"/><path d="M525.5,434 Q525.5,431 528.5,431 L535,431 Q538,431 538,434 L538,444 L525.5,444 Z" fill="#fc944c"/><ellipse cx="531.5" cy="464.5" rx="22.5" ry="22.5" fill="#fc944c"/><path d="M522.5,480 L542.5,480 L542.5,499 C542.5,503 539,503.5 532.5,503.5 C526,503.5 522.5,503 522.5,499 Z" fill="#fc944c"/></g><circle cx="551" cy="1153" r="27" fill="#111"/><circle cx="551" cy="1153" r="26" fill="url(#pbOuter)"/><circle cx="551" cy="1153" r="20.5" fill="url(#pbFace)"/><circle cx="551" cy="1153" r="20" fill="none" stroke="#c03030" stroke-width="2"/><text x="626" y="1137.3" font-size="7" fill="#d8d8d8" text-anchor="middle" font-weight="bold" font-family="Liberation Sans, sans-serif" >FIBER</text><rect x="598" y="1144.5" width="55.0" height="24.0" rx="4.0" fill="url(#fibPlate)"/><circle cx="606.0" cy="1155.5" r="3.5" fill="#b8b0a2" stroke="#6e685e" stroke-width="0.7"/><circle cx="645.0" cy="1155.5" r="3.5" fill="#b8b0a2" stroke="#6e685e" stroke-width="0.7"/><rect x="616.0" y="1143.0" width="17.0" height="27.0" fill="#ddd6ca" stroke="#8e877b" stroke-width="0.7"/><rect x="619.0" y="1152.5" width="9.0" height="22.0" rx="2.0" fill="#eeeae2" stroke="#8e877b" stroke-width="0.7"/><rect x="639.0" y="1158.5" width="6.0" height="14.0" fill="#cfc8bc" stroke="#8e877b" stroke-width="0.6"/><circle cx="677" cy="1166.5" r="2.4" fill="#0c0c0c" stroke="#333" stroke-width="0.6"/><circle cx="689.5" cy="1166.5" r="2.4" fill="#0c0c0c" stroke="#333" stroke-width="0.6"/><text x="689.5" y="1178.5" font-size="6.5" fill="#bdbdbd" text-anchor="middle" font-weight="normal" font-family="Liberation Sans, sans-serif" >PWR</text><polygon points="698.94,1152.5 704.25,1142.15 717.75,1142.15 723.06,1152.5 717.75,1162.85 704.25,1162.85" fill="url(#hexSil)"/><ellipse cx="711.1024" cy="1151.15" rx="9.0" ry="8.55" fill="url(#bSil)"/><ellipse cx="711.1024" cy="1149.8" rx="6.3" ry="4.5" fill="none" stroke="#fafafa" stroke-width="0.9" opacity="0.6"/><circle cx="710.131" cy="1157.72" r="7.38" fill="url(#faceSil)"/><circle cx="710.131" cy="1157.72" r="4.14" fill="#f6f2e6"/><circle cx="710.131" cy="1157.72" r="1.53" fill="#7a5a18"/><text x="712" y="1136" font-size="7" fill="#d4d4d4" text-anchor="middle" font-weight="bold" font-family="Liberation Sans, sans-serif" >OUT</text><polygon points="724.94,1152.5 730.25,1142.15 743.75,1142.15 749.06,1152.5 743.75,1162.85 730.25,1162.85" fill="url(#hexSil)"/><ellipse cx="737.2168" cy="1151.15" rx="9.0" ry="8.55" fill="url(#bSil)"/><ellipse cx="737.2168" cy="1149.8" rx="6.3" ry="4.5" fill="none" stroke="#fafafa" stroke-width="0.9" opacity="0.6"/><circle cx="736.417" cy="1157.72" r="7.38" fill="url(#faceSil)"/><circle cx="736.417" cy="1157.72" r="4.14" fill="#f6f2e6"/><circle cx="736.417" cy="1157.72" r="1.53" fill="#7a5a18"/><text x="738" y="1136" font-size="7" fill="#d4d4d4" text-anchor="middle" font-weight="bold" font-family="Liberation Sans, sans-serif" >OUT</text><polygon points="750.94,1152.5 756.25,1142.15 769.75,1142.15 775.06,1152.5 769.75,1162.85 756.25,1162.85" fill="url(#hexSil)"/><ellipse cx="763.3312000000001" cy="1151.15" rx="9.0" ry="8.55" fill="url(#bSil)"/><ellipse cx="763.3312000000001" cy="1149.8" rx="6.3" ry="4.5" fill="none" stroke="#fafafa" stroke-width="0.9" opacity="0.6"/><circle cx="762.703" cy="1157.72" r="7.38" fill="url(#faceSil)"/><circle cx="762.703" cy="1157.72" r="4.14" fill="#f6f2e6"/><circle cx="762.703" cy="1157.72" r="1.53" fill="#7a5a18"/><text x="764" y="1136" font-size="7" fill="#d4d4d4" text-anchor="middle" font-weight="bold" font-family="Liberation Sans, sans-serif" >OUT</text><polygon points="776.94,1152.5 782.25,1142.15 795.75,1142.15 801.06,1152.5 795.75,1162.85 782.25,1162.85" fill="url(#hexSil)"/><ellipse cx="789.4456" cy="1151.15" rx="9.0" ry="8.55" fill="url(#bSil)"/><ellipse cx="789.4456" cy="1149.8" rx="6.3" ry="4.5" fill="none" stroke="#fafafa" stroke-width="0.9" opacity="0.6"/><circle cx="788.989" cy="1157.72" r="7.38" fill="url(#faceSil)"/><circle cx="788.989" cy="1157.72" r="4.14" fill="#f6f2e6"/><circle cx="788.989" cy="1157.72" r="1.53" fill="#7a5a18"/><text x="790" y="1136" font-size="7" fill="#d4d4d4" text-anchor="middle" font-weight="bold" font-family="Liberation Sans, sans-serif" >OUT</text><polygon points="803.34,1152.5 808.65,1142.15 822.15,1142.15 827.4599999999999,1152.5 822.15,1162.85 808.65,1162.85" fill="url(#hexSil)"/><ellipse cx="815.96176" cy="1151.15" rx="9.0" ry="8.55" fill="url(#bSil)"/><ellipse cx="815.96176" cy="1149.8" rx="6.3" ry="4.5" fill="none" stroke="#fafafa" stroke-width="0.9" opacity="0.6"/><circle cx="815.6794" cy="1157.72" r="7.38" fill="url(#faceSil)"/><circle cx="815.6794" cy="1157.72" r="4.14" fill="#f6f2e6"/><circle cx="815.6794" cy="1157.72" r="1.53" fill="#7a5a18"/><text x="816.4" y="1136" font-size="7" fill="#d4d4d4" text-anchor="middle" font-weight="bold" font-family="Liberation Sans, sans-serif" >OUT</text><polygon points="829.6400000000001,1152.5 834.95,1142.15 848.45,1142.15 853.76,1152.5 848.45,1162.85 834.95,1162.85" fill="url(#hexSil)"/><ellipse cx="842.3774800000001" cy="1151.15" rx="9.0" ry="8.55" fill="url(#bSil)"/><ellipse cx="842.3774800000001" cy="1149.8" rx="6.3" ry="4.5" fill="none" stroke="#fafafa" stroke-width="0.9" opacity="0.6"/><circle cx="842.2687000000001" cy="1157.72" r="7.38" fill="url(#faceSil)"/><circle cx="842.2687000000001" cy="1157.72" r="4.14" fill="#f6f2e6"/><circle cx="842.2687000000001" cy="1157.72" r="1.53" fill="#7a5a18"/><text x="842.7" y="1136" font-size="7" fill="#d4d4d4" text-anchor="middle" font-weight="bold" font-family="Liberation Sans, sans-serif" >OUT</text><polygon points="855.94,1152.5 861.25,1142.15 874.75,1142.15 880.06,1152.5 874.75,1162.85 861.25,1162.85" fill="url(#hexSil)"/><ellipse cx="868.7932000000001" cy="1151.15" rx="9.0" ry="8.55" fill="url(#bSil)"/><ellipse cx="868.7932000000001" cy="1149.8" rx="6.3" ry="4.5" fill="none" stroke="#fafafa" stroke-width="0.9" opacity="0.6"/><circle cx="868.858" cy="1157.72" r="7.38" fill="url(#faceSil)"/><circle cx="868.858" cy="1157.72" r="4.14" fill="#f6f2e6"/><circle cx="868.858" cy="1157.72" r="1.53" fill="#7a5a18"/><text x="869" y="1136" font-size="7" fill="#d4d4d4" text-anchor="middle" font-weight="bold" font-family="Liberation Sans, sans-serif" >OUT</text><polygon points="881.94,1152.5 887.25,1142.15 900.75,1142.15 906.06,1152.5 900.75,1162.85 887.25,1162.85" fill="url(#hexSil)"/><ellipse cx="894.9076" cy="1151.15" rx="9.0" ry="8.55" fill="url(#bSil)"/><ellipse cx="894.9076" cy="1149.8" rx="6.3" ry="4.5" fill="none" stroke="#fafafa" stroke-width="0.9" opacity="0.6"/><circle cx="895.144" cy="1157.72" r="7.38" fill="url(#faceSil)"/><circle cx="895.144" cy="1157.72" r="4.14" fill="#f6f2e6"/><circle cx="895.144" cy="1157.72" r="1.53" fill="#7a5a18"/><text x="895" y="1136" font-size="7" fill="#d4d4d4" text-anchor="middle" font-weight="bold" font-family="Liberation Sans, sans-serif" >OUT</text><polygon points="967.44,1152.5 972.75,1142.15 986.25,1142.15 991.56,1152.5 986.25,1162.85 972.75,1162.85" fill="url(#hexSil)"/><ellipse cx="980.7838" cy="1151.15" rx="9.0" ry="8.55" fill="url(#bSil)"/><ellipse cx="980.7838" cy="1149.8" rx="6.3" ry="4.5" fill="none" stroke="#fafafa" stroke-width="0.9" opacity="0.6"/><circle cx="981.5845" cy="1157.72" r="7.38" fill="url(#faceSil)"/><circle cx="981.5845" cy="1157.72" r="4.14" fill="#f6f2e6"/><circle cx="981.5845" cy="1157.72" r="1.53" fill="#7a5a18"/><text x="980.5" y="1136" font-size="7" fill="#d4d4d4" text-anchor="middle" font-weight="bold" font-family="Liberation Sans, sans-serif" >OUT</text><polygon points="994.94,1152.5 1000.25,1142.15 1013.75,1142.15 1019.06,1152.5 1013.75,1162.85 1000.25,1162.85" fill="url(#hexSil)"/><ellipse cx="1008.4048" cy="1151.15" rx="9.0" ry="8.55" fill="url(#bSil)"/><ellipse cx="1008.4048" cy="1149.8" rx="6.3" ry="4.5" fill="none" stroke="#fafafa" stroke-width="0.9" opacity="0.6"/><circle cx="1009.387" cy="1157.72" r="7.38" fill="url(#faceSil)"/><circle cx="1009.387" cy="1157.72" r="4.14" fill="#f6f2e6"/><circle cx="1009.387" cy="1157.72" r="1.53" fill="#7a5a18"/><text x="1008" y="1136" font-size="7" fill="#d4d4d4" text-anchor="middle" font-weight="bold" font-family="Liberation Sans, sans-serif" >OUT</text><polygon points="1021.94,1152.5 1027.25,1142.15 1040.75,1142.15 1046.06,1152.5 1040.75,1162.85 1027.25,1162.85" fill="url(#hexSil)"/><ellipse cx="1035.5236" cy="1151.15" rx="9.0" ry="8.55" fill="url(#bSil)"/><ellipse cx="1035.5236" cy="1149.8" rx="6.3" ry="4.5" fill="none" stroke="#fafafa" stroke-width="0.9" opacity="0.6"/><circle cx="1036.684" cy="1157.72" r="7.38" fill="url(#faceSil)"/><circle cx="1036.684" cy="1157.72" r="4.14" fill="#f6f2e6"/><circle cx="1036.684" cy="1157.72" r="1.53" fill="#7a5a18"/><text x="1035" y="1136" font-size="7" fill="#d4d4d4" text-anchor="middle" font-weight="bold" font-family="Liberation Sans, sans-serif" >OUT</text><polygon points="1048.94,1152.5 1054.25,1142.15 1067.75,1142.15 1073.06,1152.5 1067.75,1162.85 1054.25,1162.85" fill="url(#hexSil)"/><ellipse cx="1062.6424" cy="1151.15" rx="9.0" ry="8.55" fill="url(#bSil)"/><ellipse cx="1062.6424" cy="1149.8" rx="6.3" ry="4.5" fill="none" stroke="#fafafa" stroke-width="0.9" opacity="0.6"/><circle cx="1063.981" cy="1157.72" r="7.38" fill="url(#faceSil)"/><circle cx="1063.981" cy="1157.72" r="4.14" fill="#f6f2e6"/><circle cx="1063.981" cy="1157.72" r="1.53" fill="#7a5a18"/><text x="1062" y="1136" font-size="7" fill="#d4d4d4" text-anchor="middle" font-weight="bold" font-family="Liberation Sans, sans-serif" >OUT</text><polygon points="1074.94,1152.5 1080.25,1142.15 1093.75,1142.15 1099.06,1152.5 1093.75,1162.85 1080.25,1162.85" fill="url(#hexSil)"/><ellipse cx="1088.7568" cy="1151.15" rx="9.0" ry="8.55" fill="url(#bSil)"/><ellipse cx="1088.7568" cy="1149.8" rx="6.3" ry="4.5" fill="none" stroke="#fafafa" stroke-width="0.9" opacity="0.6"/><circle cx="1090.267" cy="1157.72" r="7.38" fill="url(#faceSil)"/><circle cx="1090.267" cy="1157.72" r="4.14" fill="#f6f2e6"/><circle cx="1090.267" cy="1157.72" r="1.53" fill="#7a5a18"/><text x="1088" y="1136" font-size="7" fill="#d4d4d4" text-anchor="middle" font-weight="bold" font-family="Liberation Sans, sans-serif" >OUT</text><polygon points="1099.94,1152.5 1105.25,1142.15 1118.75,1142.15 1124.06,1152.5 1118.75,1162.85 1105.25,1162.85" fill="url(#hexSil)"/><ellipse cx="1113.8668" cy="1151.15" rx="9.0" ry="8.55" fill="url(#bSil)"/><ellipse cx="1113.8668" cy="1149.8" rx="6.3" ry="4.5" fill="none" stroke="#fafafa" stroke-width="0.9" opacity="0.6"/><circle cx="1115.542" cy="1157.72" r="7.38" fill="url(#faceSil)"/><circle cx="1115.542" cy="1157.72" r="4.14" fill="#f6f2e6"/><circle cx="1115.542" cy="1157.72" r="1.53" fill="#7a5a18"/><text x="1113" y="1136" font-size="7" fill="#d4d4d4" text-anchor="middle" font-weight="bold" font-family="Liberation Sans, sans-serif" >OUT</text><polygon points="1127.54,1152.5 1132.85,1142.15 1146.35,1142.15 1151.6599999999999,1152.5 1146.35,1162.85 1132.85,1162.85" fill="url(#hexSil)"/><ellipse cx="1141.58824" cy="1151.15" rx="9.0" ry="8.55" fill="url(#bSil)"/><ellipse cx="1141.58824" cy="1149.8" rx="6.3" ry="4.5" fill="none" stroke="#fafafa" stroke-width="0.9" opacity="0.6"/><circle cx="1143.4456" cy="1157.72" r="7.38" fill="url(#faceSil)"/><circle cx="1143.4456" cy="1157.72" r="4.14" fill="#f6f2e6"/><circle cx="1143.4456" cy="1157.72" r="1.53" fill="#7a5a18"/><text x="1140.6" y="1136" font-size="7" fill="#d4d4d4" text-anchor="middle" font-weight="bold" font-family="Liberation Sans, sans-serif" >OUT</text><polygon points="1152.44,1152.5 1157.75,1142.15 1171.25,1142.15 1176.56,1152.5 1171.25,1162.85 1157.75,1162.85" fill="url(#hexSil)"/><ellipse cx="1166.5978" cy="1151.15" rx="9.0" ry="8.55" fill="url(#bSil)"/><ellipse cx="1166.5978" cy="1149.8" rx="6.3" ry="4.5" fill="none" stroke="#fafafa" stroke-width="0.9" opacity="0.6"/><circle cx="1168.6195" cy="1157.72" r="7.38" fill="url(#faceSil)"/><circle cx="1168.6195" cy="1157.72" r="4.14" fill="#f6f2e6"/><circle cx="1168.6195" cy="1157.72" r="1.53" fill="#7a5a18"/><text x="1165.5" y="1136" font-size="7" fill="#d4d4d4" text-anchor="middle" font-weight="bold" font-family="Liberation Sans, sans-serif" >OUT</text><circle cx="725.0" cy="1166.5" r="2.4" fill="#0c0c0c" stroke="#333" stroke-width="0.6"/><path d="M710,1167 L710,1175.3 L716,1175.3 M740,1167 L740,1175.3 L734,1175.3" stroke="#bdbdbd" stroke-width="1" fill="none"/><text x="725.0" y="1178.5" font-size="6.5" fill="#bdbdbd" text-anchor="middle" font-weight="normal" font-family="Liberation Sans, sans-serif" >SDI-1</text><circle cx="777.0" cy="1166.5" r="2.4" fill="#0c0c0c" stroke="#333" stroke-width="0.6"/><path d="M762,1167 L762,1175.3 L768,1175.3 M792,1167 L792,1175.3 L786,1175.3" stroke="#bdbdbd" stroke-width="1" fill="none"/><text x="777.0" y="1178.5" font-size="6.5" fill="#bdbdbd" text-anchor="middle" font-weight="normal" font-family="Liberation Sans, sans-serif" >SDI-2</text><circle cx="829.55" cy="1166.5" r="2.4" fill="#0c0c0c" stroke="#333" stroke-width="0.6"/><path d="M814.4,1167 L814.4,1175.3 L820.4,1175.3 M844.7,1167 L844.7,1175.3 L838.7,1175.3" stroke="#bdbdbd" stroke-width="1" fill="none"/><text x="829.55" y="1178.5" font-size="6.5" fill="#bdbdbd" text-anchor="middle" font-weight="normal" font-family="Liberation Sans, sans-serif" >SDI-3</text><circle cx="882.0" cy="1166.5" r="2.4" fill="#0c0c0c" stroke="#333" stroke-width="0.6"/><path d="M867,1167 L867,1175.3 L873,1175.3 M897,1167 L897,1175.3 L891,1175.3" stroke="#bdbdbd" stroke-width="1" fill="none"/><text x="882.0" y="1178.5" font-size="6.5" fill="#bdbdbd" text-anchor="middle" font-weight="normal" font-family="Liberation Sans, sans-serif" >SDI-4</text><circle cx="994.25" cy="1166.5" r="2.4" fill="#0c0c0c" stroke="#333" stroke-width="0.6"/><path d="M978.5,1167 L978.5,1175.3 L984.5,1175.3 M1010,1167 L1010,1175.3 L1004,1175.3" stroke="#bdbdbd" stroke-width="1" fill="none"/><text x="994.25" y="1178.5" font-size="6.5" fill="#bdbdbd" text-anchor="middle" font-weight="normal" font-family="Liberation Sans, sans-serif" >SDI-5</text><circle cx="1048.5" cy="1166.5" r="2.4" fill="#0c0c0c" stroke="#333" stroke-width="0.6"/><path d="M1033,1167 L1033,1175.3 L1039,1175.3 M1064,1167 L1064,1175.3 L1058,1175.3" stroke="#bdbdbd" stroke-width="1" fill="none"/><text x="1048.5" y="1178.5" font-size="6.5" fill="#bdbdbd" text-anchor="middle" font-weight="normal" font-family="Liberation Sans, sans-serif" >SDI-6</text><circle cx="1100.5" cy="1166.5" r="2.4" fill="#0c0c0c" stroke="#333" stroke-width="0.6"/><path d="M1086,1167 L1086,1175.3 L1092,1175.3 M1115,1167 L1115,1175.3 L1109,1175.3" stroke="#bdbdbd" stroke-width="1" fill="none"/><text x="1100.5" y="1178.5" font-size="6.5" fill="#bdbdbd" text-anchor="middle" font-weight="normal" font-family="Liberation Sans, sans-serif" >SDI-7</text><circle cx="1153.05" cy="1166.5" r="2.4" fill="#0c0c0c" stroke="#333" stroke-width="0.6"/><path d="M1138.6,1167 L1138.6,1175.3 L1144.6,1175.3 M1167.5,1167 L1167.5,1175.3 L1161.5,1175.3" stroke="#bdbdbd" stroke-width="1" fill="none"/><text x="1153.05" y="1178.5" font-size="6.5" fill="#bdbdbd" text-anchor="middle" font-weight="normal" font-family="Liberation Sans, sans-serif" >SDI-8</text><rect x="916.5" y="1154" width="46" height="13" fill="#4fb84f" stroke="#2e7d2e" stroke-width="0.8"/><rect x="918.5" y="1156" width="42" height="8" fill="#6fd06f"/><rect x="918.9" y="1157" width="1.2" height="7" fill="#2e7d2e"/><rect x="923.3444444444444" y="1157" width="1.2" height="7" fill="#2e7d2e"/><rect x="927.7888888888889" y="1157" width="1.2" height="7" fill="#2e7d2e"/><rect x="932.2333333333333" y="1157" width="1.2" height="7" fill="#2e7d2e"/><rect x="936.6777777777778" y="1157" width="1.2" height="7" fill="#2e7d2e"/><rect x="941.1222222222221" y="1157" width="1.2" height="7" fill="#2e7d2e"/><rect x="945.5666666666666" y="1157" width="1.2" height="7" fill="#2e7d2e"/><rect x="950.0111111111111" y="1157" width="1.2" height="7" fill="#2e7d2e"/><rect x="954.4555555555555" y="1157" width="1.2" height="7" fill="#2e7d2e"/><rect x="958.9" y="1157" width="1.2" height="7" fill="#2e7d2e"/><text x="963" y="1178.5" font-size="6.5" fill="#bdbdbd" text-anchor="middle" font-weight="normal" font-family="Liberation Sans, sans-serif" >PWR</text><circle cx="966" cy="1166.5" r="2.4" fill="#0c0c0c" stroke="#333" stroke-width="0.6"/>
<path d="M679,481 L691,480 L696,506 L688,507 Z" fill="#d8d2c8"/>
<ellipse cx="685.2" cy="486" rx="7" ry="6" fill="#f2efe8"/>
<path d="M704,470 L715,470 L714,492 L706,492 Z" fill="#c8c2b6"/>
<circle cx="688.0" cy="503.0" r="2.7" fill="url(#bead)" stroke="#8a847c" stroke-width="0.6"/><circle cx="693.6" cy="508.8" r="2.7" fill="url(#bead)" stroke="#8a847c" stroke-width="0.6"/><circle cx="699.2" cy="514.4" r="2.7" fill="url(#bead)" stroke="#8a847c" stroke-width="0.6"/><circle cx="706.0" cy="518.4" r="2.7" fill="url(#bead)" stroke="#8a847c" stroke-width="0.6"/><circle cx="713.3" cy="520.0" r="2.7" fill="url(#bead)" stroke="#8a847c" stroke-width="0.6"/><circle cx="721.2" cy="521.7" r="2.7" fill="url(#bead)" stroke="#8a847c" stroke-width="0.6"/><circle cx="729.0" cy="522.3" r="2.7" fill="url(#bead)" stroke="#8a847c" stroke-width="0.6"/><circle cx="737.0" cy="521.7" r="2.7" fill="url(#bead)" stroke="#8a847c" stroke-width="0.6"/><circle cx="744.2" cy="520.6" r="2.7" fill="url(#bead)" stroke="#8a847c" stroke-width="0.6"/><circle cx="749.3" cy="516.7" r="2.7" fill="url(#bead)" stroke="#8a847c" stroke-width="0.6"/><circle cx="743.1" cy="512.7" r="2.7" fill="url(#bead)" stroke="#8a847c" stroke-width="0.6"/><circle cx="736.9" cy="511.6" r="2.7" fill="url(#bead)" stroke="#8a847c" stroke-width="0.6"/><circle cx="729.6" cy="511.0" r="2.7" fill="url(#bead)" stroke="#8a847c" stroke-width="0.6"/><circle cx="722.3" cy="510.0" r="2.7" fill="url(#bead)" stroke="#8a847c" stroke-width="0.6"/><circle cx="715.6" cy="507.1" r="2.7" fill="url(#bead)" stroke="#8a847c" stroke-width="0.6"/><circle cx="711.6" cy="503.2" r="2.7" fill="url(#bead)" stroke="#8a847c" stroke-width="0.6"/><circle cx="709.4" cy="495.9" r="2.7" fill="url(#bead)" stroke="#8a847c" stroke-width="0.6"/>
<path d="M619,1175 L628,1174 L631,1195 L624,1196 Z" fill="#d8d2c8"/>
<ellipse cx="622.5" cy="1173" rx="7" ry="6" fill="#f2efe8"/>
<path d="M641,1151 L652,1151 L651,1180 L643,1180 Z" fill="#c8c2b6"/>
<circle cx="630.6" cy="1196.2" r="2.6" fill="url(#bead)" stroke="#8a847c" stroke-width="0.6"/><circle cx="636.2" cy="1202.5" r="2.6" fill="url(#bead)" stroke="#8a847c" stroke-width="0.6"/><circle cx="643.1" cy="1206.2" r="2.6" fill="url(#bead)" stroke="#8a847c" stroke-width="0.6"/><circle cx="650.6" cy="1208.1" r="2.6" fill="url(#bead)" stroke="#8a847c" stroke-width="0.6"/><circle cx="658.8" cy="1209.4" r="2.6" fill="url(#bead)" stroke="#8a847c" stroke-width="0.6"/><circle cx="666.2" cy="1209.7" r="2.6" fill="url(#bead)" stroke="#8a847c" stroke-width="0.6"/><circle cx="674.4" cy="1209.4" r="2.6" fill="url(#bead)" stroke="#8a847c" stroke-width="0.6"/><circle cx="681.9" cy="1208.1" r="2.6" fill="url(#bead)" stroke="#8a847c" stroke-width="0.6"/><circle cx="686.2" cy="1205.0" r="2.6" fill="url(#bead)" stroke="#8a847c" stroke-width="0.6"/><circle cx="680.0" cy="1200.6" r="2.6" fill="url(#bead)" stroke="#8a847c" stroke-width="0.6"/><circle cx="673.1" cy="1199.4" r="2.6" fill="url(#bead)" stroke="#8a847c" stroke-width="0.6"/><circle cx="665.6" cy="1198.8" r="2.6" fill="url(#bead)" stroke="#8a847c" stroke-width="0.6"/><circle cx="658.8" cy="1198.1" r="2.6" fill="url(#bead)" stroke="#8a847c" stroke-width="0.6"/><circle cx="653.1" cy="1195.0" r="2.6" fill="url(#bead)" stroke="#8a847c" stroke-width="0.6"/><circle cx="649.4" cy="1190.6" r="2.6" fill="url(#bead)" stroke="#8a847c" stroke-width="0.6"/><circle cx="646.9" cy="1186.2" r="2.6" fill="url(#bead)" stroke="#8a847c" stroke-width="0.6"/><circle cx="645.6" cy="1182.5" r="2.6" fill="url(#bead)" stroke="#8a847c" stroke-width="0.6"/>
<use href="#cam" transform="translate(0,0)"/>
<use href="#cam" transform="translate(0,443.5)"/>
<use href="#cam" transform="translate(0,808)"/>
<use href="#cam" transform="translate(0,1251.5)"/>
<use href="#monA" transform="translate(1304,45)"/>
<use href="#monB" transform="translate(1308,605)"/>
<use href="#monA" transform="translate(1304,841)"/>
<use href="#monB" transform="translate(1308,1343)"/>
<circle cx="126.5" cy="307.5" r="10.5" fill="#000"/>
<circle cx="126.5" cy="359.5" r="10.5" fill="#000"/>
<circle cx="126.5" cy="413.5" r="10.5" fill="#000"/>
<circle cx="1413.5" cy="350.5" r="10.5" fill="#000"/>
<circle cx="1413.5" cy="402.5" r="10.5" fill="#000"/>
<circle cx="1413.5" cy="456.5" r="10.5" fill="#000"/>
<circle cx="126.5" cy="1115.5" r="10.5" fill="#000"/>
<circle cx="126.5" cy="1167.5" r="10.5" fill="#000"/>
<circle cx="126.5" cy="1221.5" r="10.5" fill="#000"/>
<circle cx="1413.5" cy="1088.5" r="10.5" fill="#000"/>
<circle cx="1413.5" cy="1140.5" r="10.5" fill="#000"/>
<circle cx="1413.5" cy="1194.5" r="10.5" fill="#000"/>
<text x="342.63" y="102.40" font-size="40.50" font-weight="bold" fill="#000" font-family="Liberation Sans, sans-serif" textLength="188.61" lengthAdjust="spacingAndGlyphs">12G-SDI 1</text>
<text x="961.95" y="131.60" font-size="40.50" font-weight="bold" fill="#000" font-family="Liberation Sans, sans-serif" textLength="272.06" lengthAdjust="spacingAndGlyphs">Loop Output 1</text>
<text x="945.39" y="261.60" font-size="40.50" font-weight="bold" fill="#000" font-family="Liberation Sans, sans-serif" textLength="221.61" lengthAdjust="spacingAndGlyphs">Transmitter</text>
<text x="343.84" y="553.90" font-size="40.50" font-weight="bold" fill="#000" font-family="Liberation Sans, sans-serif" textLength="190.50" lengthAdjust="spacingAndGlyphs">12G-SDI 8</text>
<text x="1013.05" y="633.90" font-size="40.50" font-weight="bold" fill="#000" font-family="Liberation Sans, sans-serif" textLength="276.72" lengthAdjust="spacingAndGlyphs">Loop Output 8</text>
<text x="37.58" y="669.75" font-size="40.50" font-weight="bold" fill="#000" font-family="Liberation Sans, sans-serif" textLength="218.42" lengthAdjust="spacingAndGlyphs">SDI Camera</text>
<text x="188.14" y="369.00" font-size="40.50" font-weight="bold" fill="#000" font-family="Liberation Sans, sans-serif" textLength="56.72" lengthAdjust="spacingAndGlyphs">x 8</text>
<text x="1476.12" y="411.00" font-size="40.50" font-weight="bold" fill="#000" font-family="Liberation Sans, sans-serif" textLength="57.49" lengthAdjust="spacingAndGlyphs">x 8</text>
<text x="561.96" y="776.25" font-size="40.50" font-weight="bold" fill="#000" font-family="Liberation Sans, sans-serif" textLength="95.47" lengthAdjust="spacingAndGlyphs">Fiber</text>
<text x="692.10" y="775.25" font-size="40.50" font-weight="bold" fill="#000" font-family="Liberation Sans, sans-serif" textLength="108.33" lengthAdjust="spacingAndGlyphs">20Km</text>
<text x="961.95" y="869.25" font-size="40.50" font-weight="bold" fill="#000" font-family="Liberation Sans, sans-serif" textLength="272.82" lengthAdjust="spacingAndGlyphs">Loop Output 1</text>
<text x="343.35" y="910.00" font-size="40.50" font-weight="bold" fill="#000" font-family="Liberation Sans, sans-serif" textLength="187.69" lengthAdjust="spacingAndGlyphs">12G-SDI 1</text>
<text x="937.66" y="1009.00" font-size="40.50" font-weight="bold" fill="#000" font-family="Liberation Sans, sans-serif" textLength="162.12" lengthAdjust="spacingAndGlyphs">Receiver</text>
<text x="1476.12" y="1149.00" font-size="40.50" font-weight="bold" fill="#000" font-family="Liberation Sans, sans-serif" textLength="57.49" lengthAdjust="spacingAndGlyphs">x 8</text>
<text x="188.14" y="1177.20" font-size="40.50" font-weight="bold" fill="#000" font-family="Liberation Sans, sans-serif" textLength="56.72" lengthAdjust="spacingAndGlyphs">x 8</text>
<text x="342.74" y="1362.60" font-size="40.50" font-weight="bold" fill="#000" font-family="Liberation Sans, sans-serif" textLength="191.40" lengthAdjust="spacingAndGlyphs">12G-SDI 8</text>
<text x="1013.05" y="1372.00" font-size="40.50" font-weight="bold" fill="#000" font-family="Liberation Sans, sans-serif" textLength="276.72" lengthAdjust="spacingAndGlyphs">Loop Output 8</text>
<text x="37.58" y="1478.10" font-size="40.50" font-weight="bold" fill="#000" font-family="Liberation Sans, sans-serif" textLength="218.42" lengthAdjust="spacingAndGlyphs">SDI Camera</text>
</svg></body></html>
